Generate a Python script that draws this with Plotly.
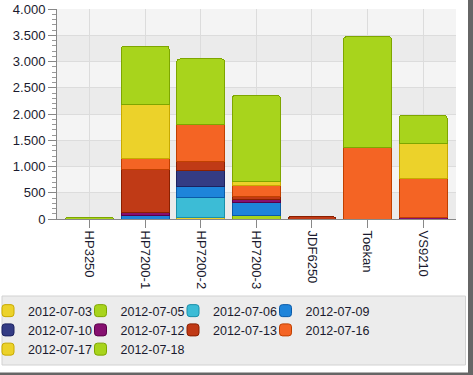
import plotly.graph_objects as go

categories = ["HP3250", "HP7200-1", "HP7200-2", "HP7200-3", "JDF6250", "Toekan", "VS9210"]
series_names = ["2012-07-03", "2012-07-05", "2012-07-06", "2012-07-09", "2012-07-10",
                "2012-07-12", "2012-07-13", "2012-07-16", "2012-07-17", "2012-07-18"]
s_0703 = [None, None, 30, None, None, None, None]
s_0705 = [30, None, None, 75, None, None, None]
s_0706 = [None, None, 376, None, None, None, None]
s_0709 = [None, 60, 210, 240, None, None, None]
s_0710 = [None, None, 305, None, None, None, None]
s_0712 = [None, 70, None, 50, None, None, 35]
s_0713 = [None, 810, 165, 55, 40, None, None]
s_0716 = [None, 210, 711, 210, None, 1360, 730]
s_0717 = [None, 1035, None, 85, None, None, 665]
s_0718 = [None, 1110, 1251, 1640, None, 2110, 545]
series_values = [s_0703, s_0705, s_0706, s_0709, s_0710, s_0712, s_0713, s_0716, s_0717, s_0718]
y_ticks = [0, 500, 1000, 1500, 2000, 2500, 3000, 3500, 4000]

fills = ["#ecd22a", "#a8d41c", "#3cbcd6", "#1e84da", "#343c84", "#861070",
         "#c03a16", "#f46424", "#ecd22a", "#a8d41c"]
borders = ["#c8aa00", "#7ea600", "#1a90aa", "#0a5aa8", "#1c2260", "#5a0048",
           "#8a2000", "#c04000", "#c8aa00", "#7ea600"]

FONT = "Liberation Sans, Arial, sans-serif"
FW, FH = 473, 375
L, T, W, H = 57, 9, 399, 210
N_COLS = 4

def px(xp):
    return (xp - L) / W
def py(yp):
    return (T + H - yp) / H

fig = go.Figure()
for i, (name, vals, fc, bc) in enumerate(zip(series_names, series_values, fills, borders)):
    col = i % N_COLS
    fig.add_trace(go.Bar(
        x=categories, y=vals, name=name,
        legend="legend" if col == 0 else f"legend{col + 1}",
        legendgroup=name,
        marker=dict(color=fc, line=dict(color=bc, width=1)),
    ))

shapes = []
for i in range(0, len(y_ticks) - 1, 2):
    shapes.append(dict(type="rect", xref="paper", yref="y", x0=0, x1=1,
                       y0=y_ticks[i], y1=y_ticks[i + 1],
                       fillcolor="#ebebeb", line=dict(width=0), layer="below"))
# legend box
shapes.append(dict(type="rect", xref="paper", yref="paper",
                   x0=px(2), x1=px(465.5), y0=py(296), y1=py(365),
                   fillcolor="#ececec", line=dict(color="#d2d2d2", width=1), layer="below"))
# window frame on right and bottom
shapes.append(dict(type="rect", xref="paper", yref="paper",
                   x0=px(468), x1=px(473), y0=py(375), y1=py(0),
                   fillcolor="#666666", line=dict(width=0), layer="above"))
shapes.append(dict(type="rect", xref="paper", yref="paper",
                   x0=px(0), x1=px(473), y0=py(375), y1=py(372.5),
                   fillcolor="#666666", line=dict(width=0), layer="above"))

def legend_col(k):
    return dict(
        orientation="v", xref="paper", yref="paper",
        x=px(-12 + 92.5 * k), xanchor="left", y=py(296), yanchor="top",
        bgcolor="rgba(0,0,0,0)", borderwidth=0,
        font=dict(family=FONT, size=12.5, color="#1a1a2e"),
        itemwidth=30, tracegroupgap=3.5,
        traceorder="normal", itemclick=False, itemdoubleclick=False,
    )

layout_legends = {("legend" if k == 0 else f"legend{k + 1}"): legend_col(k) for k in range(N_COLS)}

fig.update_layout(
    width=FW, height=FH,
    margin=dict(l=L, r=FW - L - W, t=T, b=FH - T - H, autoexpand=False),
    barmode="stack", bargap=0.14, barcornerradius=3,
    paper_bgcolor="white", plot_bgcolor="#f4f4f4",
    separators=",.",
    font=dict(family=FONT, size=13, color="#1a1a2e"),
    shapes=shapes,
    showlegend=True,
    xaxis=dict(
        range=[-0.585, 6.59], type="category",
        showgrid=True, gridcolor="#dcdcdc", gridwidth=1,
        ticks="outside", ticklen=8, tickcolor="#888888",
        showline=True, linecolor="#888888", linewidth=1,
        tickangle=90, tickfont=dict(family=FONT, size=13, color="#1a1a2e"),
        fixedrange=True,
    ),
    yaxis=dict(
        range=[0, 4000], tickvals=y_ticks, tickformat=",d",
        showgrid=True, gridcolor="#dcdcdc", gridwidth=1,
        ticks="outside", ticklen=8, tickcolor="#888888",
        showline=True, linecolor="#888888", linewidth=1,
        zeroline=False,
        minor=dict(ticks="outside", ticklen=4, dtick=100, tickcolor="#999999", showgrid=False),
        tickfont=dict(family=FONT, size=13, color="#1a1a2e"),
        fixedrange=True,
    ),
    **layout_legends,
)

fig.write_html("out.html", config={"displayModeBar": False},
               post_script="document.body.style.margin='0px';")
